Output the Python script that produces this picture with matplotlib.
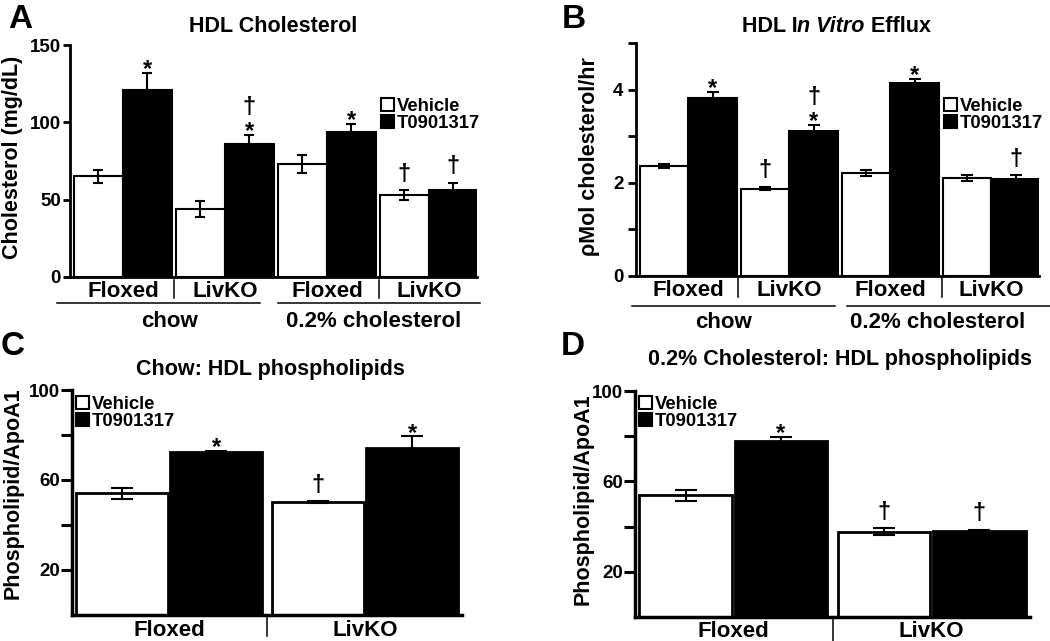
import matplotlib
matplotlib.use('Agg')
import matplotlib.pyplot as plt
import matplotlib.transforms as mtransforms
from matplotlib.patches import Patch

plt.rcParams['font.family'] = ['Liberation Sans', 'DejaVu Sans']
plt.rcParams['font.weight'] = 'bold'

# ---- data ----
series = ['Vehicle', 'T0901317']

# A: HDL cholesterol (mg/dL)
a_groups = ['Floxed', 'LivKO', 'Floxed', 'LivKO']
a_vehicle = [65, 44, 73, 53]
a_vehicle_err = [4, 5, 6, 3]
a_t09 = [121, 86, 94, 56]
a_t09_err = [11, 6, 5, 5]
a_vehicle_marks = ['', '', '', '†']
a_t09_marks = ['*', '*†', '*', '†']

# B: HDL in vitro efflux (pMol cholesterol/hr)
b_groups = ['Floxed', 'LivKO', 'Floxed', 'LivKO']
b_vehicle = [2.36, 1.88, 2.21, 2.10]
b_vehicle_err = [0.04, 0.04, 0.06, 0.06]
b_t09 = [3.82, 3.12, 4.14, 2.09]
b_t09_err = [0.13, 0.13, 0.10, 0.07]
b_vehicle_marks = ['', '†', '', '']
b_t09_marks = ['*', '*†', '*', '†']

diets = ['chow', '0.2% cholesterol']

# C: chow, HDL phospholipids
c_groups = ['Floxed', 'LivKO']
c_vehicle = [54.1, 50.1]
c_vehicle_err = [2.5, 0.4]
c_t09 = [72.3, 74.4]
c_t09_err = [0.6, 5.0]
c_vehicle_marks = ['', '†']
c_t09_marks = ['*', '*']

# D: 0.2% cholesterol, HDL phospholipids
d_groups = ['Floxed', 'LivKO']
d_vehicle = [53.8, 37.7]
d_vehicle_err = [2.5, 1.5]
d_t09 = [77.8, 38.1]
d_t09_err = [2.0, 0.6]
d_vehicle_marks = ['', '†']
d_t09_marks = ['*', '†']

W, H = 1050, 641
fig = plt.figure(figsize=(W / 100, H / 100), dpi=100)


def add_ax(left, top, right, bottom):
    return fig.add_axes([left / W, 1 - bottom / H, (right - left) / W, (bottom - top) / H])


def below(ax, dy):
    # x in data, y = dy pixels below the x axis
    return mtransforms.offset_copy(ax.get_xaxis_transform(), fig=fig, y=-dy, units='dots')


def style(ax, lw):
    for s in ['top', 'right']:
        ax.spines[s].set_visible(False)
    ax.spines['left'].set_linewidth(lw)
    ax.spines['bottom'].set_linewidth(lw)
    ax.tick_params(axis='x', length=0, labelbottom=False)


def put_marks(ax, x, tops, marks, fs=17):
    px = fs * 100 / 72
    for xi, t, m in zip(x, tops, marks):
        cur = 2
        for sym in m:
            if sym == '*':
                off = cur - 0.22 * px
                cur = off + 0.62 * px + 2
            else:
                off = cur + 0.22 * px + 2
                cur = off + 0.72 * px + 2
            ax.annotate(sym, xy=(xi, t), xytext=(0, off * 0.72), textcoords='offset points',
                        ha='center', va='baseline', fontsize=fs, fontweight='bold')


def draw_pairs(ax, centers, veh, veh_err, t09, t09_err, vm, tm, width, elw, capsize, edge_lw):
    xv = [c - 0.5 for c in centers]
    xt = [c + 0.5 for c in centers]
    ax.bar(xv, veh, width=width, color='white', edgecolor='black', linewidth=edge_lw, zorder=2)
    ax.bar(xt, t09, width=width, color='black', edgecolor='black', linewidth=edge_lw, zorder=2)
    ax.errorbar(xv, veh, yerr=veh_err, fmt='none', ecolor='black', elinewidth=elw,
                capsize=capsize, capthick=elw, zorder=3)
    ax.errorbar(xt, t09, yerr=t09_err, fmt='none', ecolor='black', elinewidth=elw,
                capsize=capsize, capthick=elw, zorder=3)
    put_marks(ax, xv, [v + e for v, e in zip(veh, veh_err)], vm)
    put_marks(ax, xt, [v + e for v, e in zip(t09, t09_err)], tm)


def legend(ax, x, y):
    handles = [Patch(facecolor='white', edgecolor='black', linewidth=1.5),
               Patch(facecolor='black', edgecolor='black', linewidth=1.5)]
    ax.legend(handles, series, loc='upper left', bbox_to_anchor=(x / W, 1 - y / H),
              bbox_transform=fig.transFigure, frameon=False, borderpad=0, borderaxespad=0,
              handlelength=0.7, handleheight=0.7, handletextpad=0.15, labelspacing=0,
              prop={'weight': 'bold', 'size': 13.3})


# ---------------- A ----------------
axA = add_ax(70, 45, 477, 277)
centers4 = [1.08 + 2.08 * i for i in range(4)]
draw_pairs(axA, centers4, a_vehicle, a_vehicle_err, a_t09, a_t09_err,
           a_vehicle_marks, a_t09_marks, 1.0, 1.5, 3.3, 1.5)
axA.set_xlim(0, 8.3)
axA.set_ylim(0, 150)
axA.set_yticks([0, 50, 100, 150])
style(axA, 2)
axA.tick_params(axis='y', length=5, width=2, pad=1.5, labelsize=13.5)
for c, g in zip(centers4, a_groups):
    axA.text(c, 0, g, transform=below(axA, 20), ha='center', va='baseline', fontsize=16)
for xs in [2.12, 6.31]:
    axA.plot([xs, xs], [-3 / 232, -21 / 232], transform=axA.get_xaxis_transform(),
             color='black', lw=1.1, clip_on=False)
for (x0, x1), xt, d in zip([(-0.27, 3.88), (4.24, 8.37)], [2.03, 6.2], diets):
    axA.plot([x0, x1], [0, 0], transform=below(axA, 26), color='black', lw=1.1, clip_on=False)
    axA.text(xt, 0, d, transform=below(axA, 50), ha='center', va='baseline', fontsize=16)
legend(axA, 381, 98)
fig.text(273.5 / W, 1 - 31.7 / H, 'HDL Cholesterol', ha='center', va='baseline', fontsize=15.5)
fig.text(13 / W, 1 - 157 / H, 'Cholesterol (mg/dL)', rotation=90, ha='center', va='center', fontsize=15.5)
fig.text(20 / W, 1 - 28 / H, 'A', ha='center', va='baseline', fontsize=24)

# ---------------- B ----------------
axB = add_ax(636, 43.3, 1039, 276)
draw_pairs(axB, centers4, b_vehicle, b_vehicle_err, b_t09, b_t09_err,
           b_vehicle_marks, b_t09_marks, 1.0, 1.5, 4, 1.5)
axB.set_xlim(0, 8.3)
axB.set_ylim(0, 5)
axB.set_yticks([0, 1, 2, 3, 4, 5], ['0', '', '2', '', '4', ''])
style(axB, 2)
axB.tick_params(axis='y', length=5.5, width=2, pad=3.5, labelsize=13.5)
for c, g in zip(centers4, b_groups):
    axB.text(c, 0, g, transform=below(axB, 20.5), ha='center', va='baseline', fontsize=16)
for xs in [2.1, 6.3]:
    axB.plot([xs, xs], [-2 / 233, -21 / 233], transform=axB.get_xaxis_transform(),
             color='black', lw=1.1, clip_on=False)
for (x0, x1), xt, d in zip([(-0.09, 4.1), (4.34, 8.6)], [1.81, 6.22], diets):
    axB.plot([x0, x1], [0, 0], transform=below(axB, 29.5), color='black', lw=1.1, clip_on=False)
    axB.text(xt, 0, d, transform=below(axB, 52), ha='center', va='baseline', fontsize=16)
legend(axB, 944, 98)
t1 = fig.text(741.7 / W, 1 - 31.7 / H, 'HDL I', ha='left', va='baseline', fontsize=15.5)
t2 = axB.annotate('n Vitro', xy=(1, 0), xycoords=t1, ha='left', va='bottom',
                  fontsize=15.5, style='italic', annotation_clip=False)
axB.annotate(' Efflux', xy=(1, 0), xycoords=t2, ha='left', va='bottom',
             fontsize=15.5, annotation_clip=False)
fig.text(589 / W, 1 - 157 / H, 'ρMol cholesterol/hr', rotation=90, ha='center', va='center', fontsize=15.5)
fig.text(573.5 / W, 1 - 28 / H, 'B', ha='center', va='baseline', fontsize=24)

# ---------------- C ----------------
centers2 = [1.03, 3.11]
axC = add_ax(72, 390, 462, 615)
draw_pairs(axC, centers2, c_vehicle, c_vehicle_err, c_t09, c_t09_err,
           c_vehicle_marks, c_t09_marks, 0.97, 1.5, 8, 2.0)
axC.set_xlim(0, 4.14)
axC.set_ylim(0, 100)
axC.set_yticks([20, 40, 60, 80, 100], ['20', '', '60', '', '100'])
style(axC, 2.5)
axC.tick_params(axis='y', length=8, width=2.2, pad=0.5, labelsize=13.5)
for c, g in zip(centers2, c_groups):
    axC.text(c, 0, g, transform=below(axC, 21), ha='center', va='baseline', fontsize=16)
axC.plot([2.07, 2.07], [0, -21 / 225], transform=axC.get_xaxis_transform(),
         color='black', lw=1.1, clip_on=False)
legend(axC, 76, 396)
fig.text(270 / W, 1 - 375 / H, 'Chow: HDL phospholipids', ha='center', va='baseline', fontsize=15.5)
fig.text(13.5 / W, 1 - 493.5 / H, 'Phospholipid/ApoA1', rotation=90, ha='center', va='center', fontsize=15.5)
fig.text(13 / W, 1 - 355 / H, 'C', ha='center', va='baseline', fontsize=24)

# ---------------- D ----------------
axD = add_ax(635, 391, 1030, 617)
draw_pairs(axD, centers2, d_vehicle, d_vehicle_err, d_t09, d_t09_err,
           d_vehicle_marks, d_t09_marks, 0.97, 1.5, 8, 2.0)
axD.set_xlim(0, 4.14)
axD.set_ylim(0, 100)
axD.set_yticks([20, 40, 60, 80, 100], ['20', '', '60', '', '100'])
style(axD, 2.5)
axD.tick_params(axis='y', length=8, width=2.2, pad=0.5, labelsize=13.5)
for c, g in zip(centers2, d_groups):
    axD.text(c, 0, g, transform=below(axD, 20), ha='center', va='baseline', fontsize=16)
axD.plot([2.08, 2.08], [0, -24 / 226], transform=axD.get_xaxis_transform(),
         color='black', lw=1.1, clip_on=False)
legend(axD, 639, 396)
fig.text(840 / W, 1 - 365 / H, '0.2% Cholesterol: HDL phospholipids', ha='center', va='baseline', fontsize=15.5)
fig.text(583.5 / W, 1 - 499 / H, 'Phospholipid/ApoA1', rotation=90, ha='center', va='center', fontsize=15.5)
fig.text(573 / W, 1 - 355 / H, 'D', ha='center', va='baseline', fontsize=24)

fig.savefig('out.png', dpi=100)
